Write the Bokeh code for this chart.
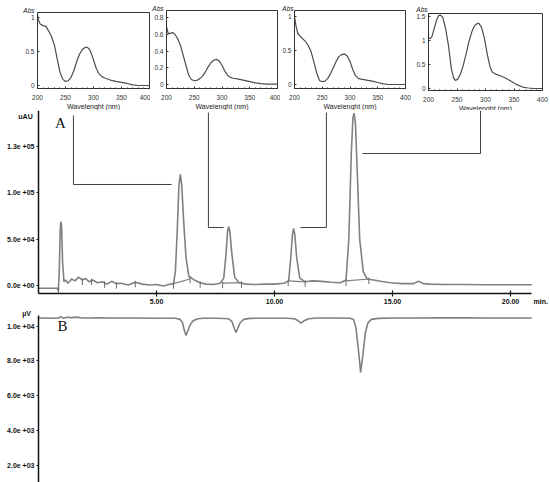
from bokeh.plotting import figure
from bokeh.layouts import column, row
from bokeh.models import Range1d, FixedTicker, Label, LinearAxis
from bokeh.embed import file_html
from bokeh.resources import INLINE

# ---------------- UV spectra (insets) ----------------
wl1 = [200, 202, 205, 210, 215, 220, 225, 230, 235, 240, 245, 250, 255, 260, 265, 270, 275, 280,
       285, 289, 293, 297, 301, 305, 310, 315, 320, 330, 340, 350, 360, 370, 380, 390, 400]
ab1 = [1.04, 0.96, 0.90, 0.88, 0.87, 0.80, 0.72, 0.60, 0.40, 0.20, 0.09, 0.06, 0.07, 0.12, 0.22, 0.35,
       0.46, 0.53, 0.56, 0.56, 0.53, 0.45, 0.35, 0.25, 0.17, 0.13, 0.11, 0.08, 0.06, 0.045, 0.03, 0.01,
       0.0, 0.0, 0.0]

wl2 = [200, 203, 207, 211, 215, 220, 225, 230, 235, 240, 245, 250, 255, 260, 265, 270, 275, 280,
       285, 290, 295, 300, 305, 310, 315, 320, 330, 340, 350, 360, 370, 380, 390, 400]
ab2 = [0.69, 0.61, 0.61, 0.62, 0.60, 0.55, 0.47, 0.35, 0.23, 0.11, 0.06, 0.045, 0.05, 0.07, 0.10, 0.15,
       0.21, 0.26, 0.29, 0.30, 0.28, 0.23, 0.16, 0.11, 0.085, 0.075, 0.065, 0.05, 0.035, 0.02, 0.01,
       0.005, 0.005, 0.005]

wl3 = [200, 203, 206, 210, 215, 220, 225, 230, 235, 240, 245, 250, 255, 260, 265, 270, 275, 280,
       285, 290, 295, 300, 305, 310, 315, 320, 330, 340, 350, 360, 370, 380, 400]
ab3 = [1.00, 0.85, 0.75, 0.71, 0.67, 0.63, 0.57, 0.48, 0.33, 0.17, 0.06, 0.04, 0.05, 0.09, 0.16, 0.25,
       0.34, 0.41, 0.44, 0.45, 0.42, 0.34, 0.22, 0.13, 0.09, 0.08, 0.065, 0.05, 0.03, 0.01, 0.0, 0.0, 0.0]

wl4 = [200, 203, 206, 210, 214, 218, 221, 225, 230, 235, 240, 244, 247, 251, 256, 261, 266, 271,
       276, 281, 285, 288, 293, 298, 303, 308, 312, 318, 325, 335, 345, 355, 365, 375, 385, 400]
ab4 = [1.05, 1.04, 1.08, 1.25, 1.42, 1.52, 1.53, 1.48, 1.25, 0.90, 0.42, 0.22, 0.17, 0.19, 0.30, 0.48,
       0.72, 0.98, 1.18, 1.31, 1.35, 1.36, 1.28, 1.05, 0.72, 0.45, 0.34, 0.30, 0.27, 0.22, 0.15, 0.08,
       0.03, 0.01, 0.0, 0.0]

wl_ticks = [200, 250, 300, 350, 400]
ins1_yticks = [0, 0.5, 1]
ins2_yticks = [0, 0.2, 0.4, 0.6, 0.8]
ins3_yticks = [0, 0.5, 1]
ins4_yticks = [0, 0.5, 1, 1.5]

# ---------------- Chromatogram A (UV, uAU) ----------------
tA = [0.00, 0.80, 0.84, 0.88, 0.92, 0.95, 0.98, 1.02, 1.08, 1.15,
      1.25, 1.40, 1.55, 1.70, 1.85, 2.00, 2.15, 2.30, 2.50, 2.70,
      2.90, 3.10, 3.30, 3.50, 3.80, 4.10, 4.40, 4.70, 5.00, 5.30,
      5.52, 5.72, 5.80, 5.88, 5.95, 6.01, 6.07, 6.15, 6.25, 6.37,
      6.60, 6.85, 7.10, 7.40, 7.70, 7.85, 7.95, 8.01, 8.06, 8.11,
      8.19, 8.31, 8.50, 8.80, 9.20, 9.60, 10.00, 10.40, 10.60, 10.69,
      10.76, 10.81, 10.86, 10.94, 11.07, 11.30, 11.60, 12.00, 12.40, 12.80,
      13.03, 13.15, 13.25, 13.32, 13.37, 13.43, 13.51, 13.61, 13.76, 13.93,
      14.20, 14.50, 14.90, 15.40, 15.90, 16.10, 16.30, 16.60, 17.20, 18.00,
      19.00, 20.00, 20.90]
vA = [-3000, -3000, -6000, 15000, 60000, 69000, 64000, 25000, 4000, 6000,
      2500, 7000, 5000, 9000, 6000, 7500, 4000, 6000, 3000, 4000,
      1500, 4500, 2000, 2500, 500, 3500, 1500, 500, 1000, -500,
      1000, 2000, 15000, 60000, 108000, 120000, 108000, 70000, 30000, 10000,
      6000, 3000, 1500, 1000, 2500, 8000, 35000, 58000, 63500, 58000,
      35000, 9000, 3000, 1500, 1000, 1500, 1500, 2500, 5000, 30000,
      55000, 61500, 55000, 30000, 8000, 4000, 5000, 4500, 3500, 3000,
      6000, 50000, 140000, 180000, 186000, 175000, 120000, 50000, 15000, 7000,
      6000, 4500, 3000, 2000, 2000, 4500, 2000, 1500, 1000, 1000,
      800, 800, 800]

# integration marks (time, trace level) and drawn peak baselines
mark_t = [0.85, 1.86, 2.25, 2.80, 3.30, 4.10, 5.72, 6.42, 6.85, 7.80, 8.60, 10.58, 11.30, 13.03, 14.00]
mark_v = [-3000, 6000, 6000, 3000, 2000, 3500, 2000, 8000, 3000, 2500, 3000, 5000, 4000, 5000, 7000]
base_t0 = [5.72, 7.80, 10.58, 13.03]
base_v0 = [2000, 2500, 5000, 5000]
base_t1 = [6.42, 8.60, 11.30, 14.00]
base_v1 = [7000, 3000, 4000, 7000]

# connector lines from the spectra down to their peaks (time, uAU)
conn_x = [[1.48, 1.48, 5.64], [7.20, 7.20, 7.84], [12.20, 12.20, 11.10], [18.73, 18.73, 13.73]]
conn_y = [[183400, 108980, 108980], [186600, 62580, 62580], [186600, 62580, 62580],
          [188800, 142430, 142430]]

A_ticks = [0, 50000, 100000, 150000]
A_labels = ["0.0e +00", "5.0e +04", "1.0e +05", "1.3e +05"]
t_ticks = [5, 10, 15, 20]
t_labels = ["5.00", "10.00", "15.00", "20.00"]

# ---------------- Chromatogram B (uV) ----------------
tB = [0.00, 0.60, 0.85, 0.95, 1.05, 1.20, 1.40, 1.60, 1.80, 2.10, 2.50, 3.00, 4.00, 5.00, 5.80,
      6.00, 6.10, 6.18, 6.25, 6.32, 6.42, 6.55, 6.75, 7.00, 7.60, 8.05, 8.20, 8.30, 8.37, 8.44,
      8.55, 8.70, 8.95, 9.50, 10.50, 10.85, 11.00, 11.12, 11.25, 11.45, 11.80, 12.50, 13.20, 13.35,
      13.45, 13.55, 13.65, 13.75, 13.85, 13.95, 14.10, 14.40, 15.00, 16.00, 17.00, 18.00, 19.00,
      20.00, 20.90]
vB = [10460, 10450, 10470, 10530, 10440, 10500, 10480, 10510, 10470, 10460, 10470, 10460, 10460,
      10450, 10450, 10380, 10200, 9750, 9450, 9700, 10050, 10300, 10420, 10450, 10450, 10420, 10250,
      9850, 9630, 9850, 10200, 10380, 10440, 10450, 10450, 10420, 10300, 10170, 10300, 10420, 10460,
      10460, 10450, 10380, 9900, 8700, 7330, 8400, 9600, 10150, 10380, 10440, 10460, 10460, 10470,
      10470, 10460, 10460, 10460]
B_ticks = [2000, 4000, 6000, 8000, 10000]
B_labels = ["2.0e +03", "4.0e +03", "6.0e +03", "8.0e +03", "1.0e +04"]

SANS = "Liberation Sans"
SERIF = "Liberation Serif"
INK = "#111111"


def bare_fig(w, h, xr, yr):
    p = figure(width=w, height=h, x_range=Range1d(*xr), y_range=Range1d(*yr),
               x_axis_location=None, y_axis_location=None,
               output_backend="svg", toolbar_location=None,
               min_border_left=0, min_border_right=0, min_border_top=0, min_border_bottom=0)
    p.grid.visible = False
    p.outline_line_color = None
    return p


def style_axis(ax, size, bold, color):
    ax.axis_line_color = color
    ax.major_tick_line_color = color
    ax.minor_tick_line_color = color
    ax.major_label_text_font = SANS
    ax.major_label_text_font_size = size
    ax.major_label_text_font_style = "bold" if bold else "normal"
    ax.major_label_text_color = color


# Inset pixel geometry (figure span, box left/right/top/bottom, zero row, px per Abs unit)
def inset(x0, x1, L, R, T, Bm, zero, ppu, yticks, wl, ab, abs_px):
    w = x1 - x0
    h = 110
    ppn = (R - L) / 200.0
    xr = (200 - (L - x0) / ppn, 400 + (x1 - R) / ppn)
    yr = ((zero - h) / ppu, zero / ppu)
    ymin, ymax = (zero - Bm) / ppu, (zero - T) / ppu
    p = bare_fig(w, h, xr, yr)
    p.quad(left=[200], right=[400], bottom=[ymin], top=[ymax], fill_color=None,
           line_color="#333333", line_width=1)
    p.line(wl, ab, line_color="#4d4d4d", line_width=1.2)
    xa = LinearAxis(fixed_location=ymin, bounds=(200, 400))
    style_axis(xa, "6.5px", False, "#333333")
    xa.ticker = FixedTicker(ticks=wl_ticks, minor_ticks=list(range(200, 401, 10)))
    xa.major_tick_in, xa.major_tick_out = 2, 0
    xa.minor_tick_in, xa.minor_tick_out = 1, 0
    xa.major_label_standoff = 6
    xa.axis_label = "Wavelenght (nm)"
    xa.axis_label_text_font = SANS
    xa.axis_label_text_font_style = "normal"
    xa.axis_label_text_font_size = "7px"
    xa.axis_label_text_color = "#222222"
    xa.axis_label_standoff = 0
    p.add_layout(xa, "below")
    ya = LinearAxis(fixed_location=200, bounds=(ymin, ymax))
    style_axis(ya, "6.5px", False, "#333333")
    ya.ticker = FixedTicker(ticks=yticks)
    ya.major_tick_in, ya.major_tick_out = 2, 0
    ya.minor_tick_line_color = None
    ya.major_label_standoff = 3
    ya.major_label_overrides = {t: ("%g" % t) for t in yticks}
    p.add_layout(ya, "left")
    ax_, ay_ = abs_px
    p.add_layout(Label(x=200 - (L - ax_) / ppn, y=(zero - ay_) / ppu, text="Abs", text_font=SANS,
                       text_font_size="6.5px", text_font_style="italic", text_color="#222222",
                       text_align="right", text_baseline="middle"))
    return p


i1 = inset(0, 150, 37, 149, 12, 88, 85, 68.0, ins1_yticks, wl1, ab1, (34, 10))
i2 = inset(150, 280, 166, 277, 10, 88, 84, 83.75, ins2_yticks, wl2, ab2, (163, 8))
i3 = inset(280, 414, 294, 405, 10, 88, 84, 68.0, ins3_yticks, wl3, ab3, (293, 8))
i4 = inset(414, 550, 428, 542, 13, 90, 88, 48.0, ins4_yticks, wl4, ab4, (427, 9))

TRACE = "#808080"

# ---------------- figure A: page rows 110..305, y axis at px 38, 23.6 px/min ----------------
PX0, PPM = 38.0, 23.6
A_top, A_h, A_zero, A_upp = 110, 195, 285, 1079.0
A_xr = (-PX0 / PPM, (550 - PX0) / PPM)
A_yr = ((A_zero - (A_top + A_h)) * A_upp, (A_zero - A_top) * A_upp)
A_axis_v = (A_zero - 293) * A_upp

pA = bare_fig(550, A_h, A_xr, A_yr)
pA.line(tA, vA, line_color=TRACE, line_width=1.6)
pA.segment(x0=base_t0, y0=base_v0, x1=base_t1, y1=base_v1, line_color=TRACE, line_width=1.2)
pA.segment(x0=mark_t, y0=[v + 1500 for v in mark_v], x1=mark_t, y1=[v - 5500 for v in mark_v],
           line_color="#6a6a6a", line_width=1)
pA.multi_line(conn_x, conn_y, line_color="#404040", line_width=1)

xA = LinearAxis(fixed_location=A_axis_v, bounds=(0, 20.9))
style_axis(xA, "7px", True, INK)
xA.axis_line_width = 1.5
xA.major_tick_line_width = 1.2
xA.ticker = FixedTicker(ticks=t_ticks)
xA.minor_tick_line_color = None
xA.major_label_overrides = dict(zip(t_ticks, t_labels))
xA.major_tick_in, xA.major_tick_out = 3, 3
xA.major_label_standoff = 2
pA.add_layout(xA, "below")

yA = LinearAxis(fixed_location=0, bounds=(A_axis_v, A_yr[1]))
style_axis(yA, "7px", True, INK)
yA.axis_line_width = 1.5
yA.major_tick_line_width = 1.2
yA.ticker = FixedTicker(ticks=A_ticks)
yA.minor_tick_line_color = None
yA.major_label_overrides = dict(zip(A_ticks, A_labels))
yA.major_tick_in, yA.major_tick_out = 0, 2
yA.major_label_standoff = 2
pA.add_layout(yA, "left")


def ax_pos(px, py):
    return (px - PX0) / PPM, (A_zero - py) * A_upp


x_, y_ = ax_pos(25, 116)
pA.add_layout(Label(x=x_, y=y_, text="uAU", text_font=SANS, text_font_style="bold",
                    text_font_size="7px", text_color=INK, text_align="center", text_baseline="middle"))
x_, y_ = ax_pos(60, 122)
pA.add_layout(Label(x=x_, y=y_, text="A", text_font=SERIF, text_font_size="15px",
                    text_color=INK, text_align="center", text_baseline="middle"))
x_, y_ = ax_pos(533, 301)
pA.add_layout(Label(x=x_, y=y_, text="min.", text_font=SANS, text_font_style="bold",
                    text_font_size="7px", text_color=INK, text_align="left", text_baseline="middle"))

# ---------------- figure B: page rows 305..482 ----------------
B_top, B_h, B_ref_px, B_upp = 305, 177, 325.5, 57.55
B_yr = (10000 - (B_top + B_h - B_ref_px) * B_upp, 10000 + (B_ref_px - B_top) * B_upp)
B_axis_top = 10000 + (B_ref_px - 315) * B_upp

pB = bare_fig(550, B_h, A_xr, B_yr)
pB.line(tB, vB, line_color=TRACE, line_width=1.6)
yB = LinearAxis(fixed_location=0, bounds=(B_yr[0], B_axis_top))
style_axis(yB, "7px", True, INK)
yB.axis_line_width = 1.5
yB.major_tick_line_width = 1.2
yB.ticker = FixedTicker(ticks=B_ticks)
yB.minor_tick_line_color = None
yB.major_label_overrides = dict(zip(B_ticks, B_labels))
yB.major_tick_in, yB.major_tick_out = 0, 2
yB.major_label_standoff = 2
pB.add_layout(yB, "left")


def bx_pos(px, py):
    return (px - PX0) / PPM, 10000 + (B_ref_px - py) * B_upp


x_, y_ = bx_pos(26, 313)
pB.add_layout(Label(x=x_, y=y_, text="\u00b5V", text_font=SANS, text_font_style="bold",
                    text_font_size="7px", text_color=INK, text_align="center", text_baseline="middle"))
x_, y_ = bx_pos(62, 325)
pB.add_layout(Label(x=x_, y=y_, text="B", text_font=SERIF, text_font_size="15px",
                    text_color=INK, text_align="center", text_baseline="middle"))

layout = column(row(i1, i2, i3, i4), pA, pB)
open("out.html", "w").write(file_html(layout, INLINE))
